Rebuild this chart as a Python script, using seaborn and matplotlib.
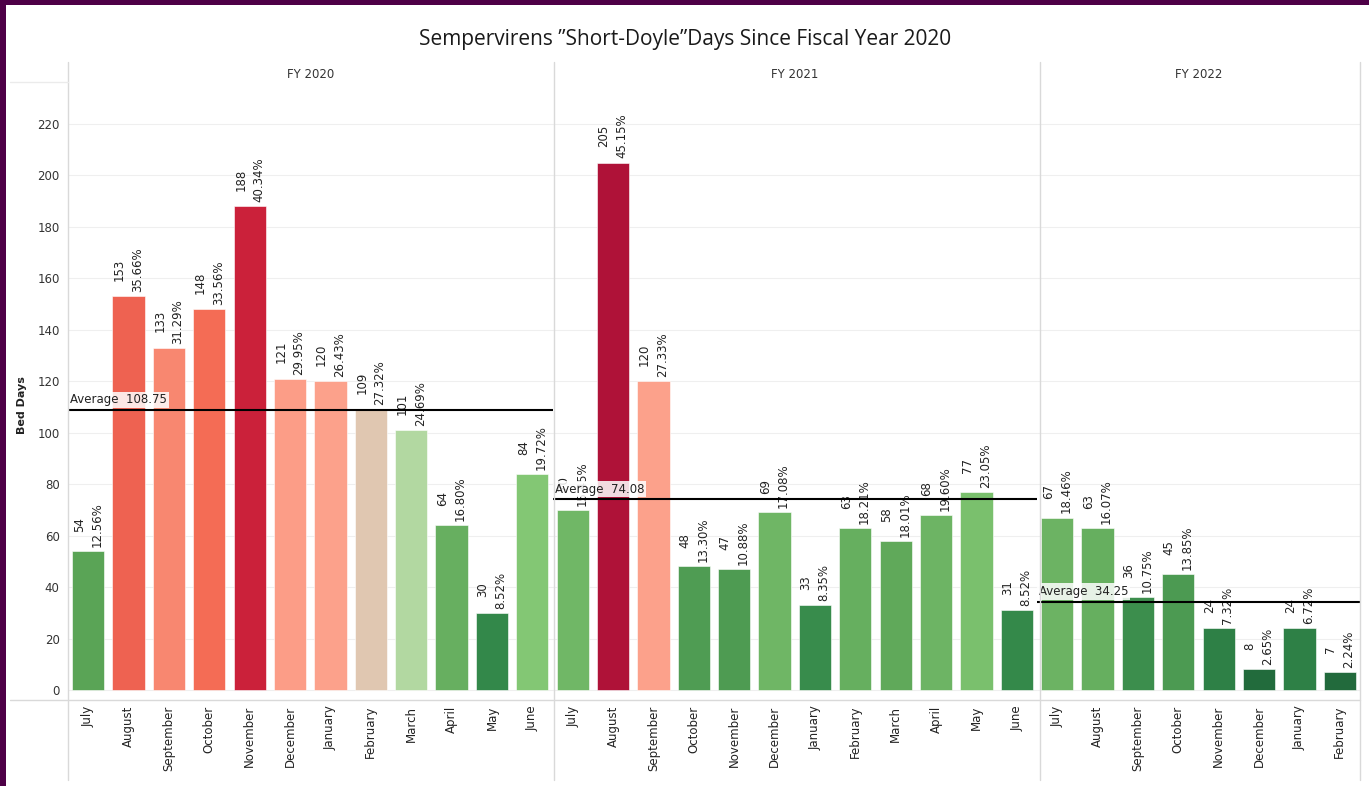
import numpy as np
import pandas as pd
import matplotlib.pyplot as plt
import matplotlib.colors as mcolors
from matplotlib.lines import Line2D
from matplotlib.patches import Rectangle
import seaborn as sns

# data
fiscal_years = ['FY 2020', 'FY 2021', 'FY 2022']
months = ['July', 'August', 'September', 'October', 'November', 'December',
          'January', 'February', 'March', 'April', 'May', 'June']

fy2020_days = [54, 153, 133, 148, 188, 121, 120, 109, 101, 64, 30, 84]
fy2020_pct = ['12.56%', '35.66%', '31.29%', '33.56%', '40.34%', '29.95%',
              '26.43%', '27.32%', '24.69%', '16.80%', '8.52%', '19.72%']
fy2021_days = [70, 205, 120, 48, 47, 69, 33, 63, 58, 68, 77, 31]
fy2021_pct = ['15.45%', '45.15%', '27.33%', '13.30%', '10.88%', '17.08%',
              '8.35%', '18.21%', '18.01%', '19.60%', '23.05%', '8.52%']
fy2022_days = [67, 63, 36, 45, 24, 8, 24, 7]
fy2022_pct = ['18.46%', '16.07%', '10.75%', '13.85%', '7.32%', '2.65%',
              '6.72%', '2.24%']

days_by_fy = [fy2020_days, fy2021_days, fy2022_days]
pct_by_fy = [fy2020_pct, fy2021_pct, fy2022_pct]

rows = []
for fy, d, p in zip(fiscal_years, days_by_fy, pct_by_fy):
    for m, v, s in zip(months, d, p):
        rows.append({'fy': fy, 'month': m, 'days': v, 'pct': s})
df = pd.DataFrame(rows)

# red-green diverging colour scale (tableau-like)
cmap = mcolors.LinearSegmentedColormap.from_list('rdgn', [
    (0.0, '#1d6337'), (0.034, '#226b3c'), (0.146, '#33884a'),
    (0.263, '#5aa456'), (0.41, '#84c874'), (0.493, '#b1d8a0'),
    (0.532, '#dfc8b2'), (0.585, '#fca08a'), (0.722, '#f46c55'),
    (0.917, '#cb213a'), (1.0, '#af1238')])
norm = mcolors.Normalize(0, df['days'].max())

sns.set_style('white')
plt.rcParams['font.family'] = ['DejaVu Sans']

W, H = 1369, 786
fig = plt.figure(figsize=(W / 100, H / 100), dpi=100)

x0, x1 = 68, 1360
y_top, y_bot = 82, 700
counts = [len(d) for d in days_by_fy]
gs = fig.add_gridspec(1, 3, width_ratios=counts, wspace=0,
                      left=x0 / W, right=x1 / W,
                      bottom=1 - y_bot / H, top=1 - y_top / H)

axes = []
for i, fy in enumerate(fiscal_years):
    ax = fig.add_subplot(gs[0, i], sharey=axes[0] if axes else None)
    axes.append(ax)
    sub = df[df['fy'] == fy].reset_index(drop=True)
    colors = [cmap(norm(v)) for v in sub['days']]
    sns.barplot(data=sub, x='month', y='days', hue='month', palette=colors,
                legend=False, width=0.8, saturation=1, ax=ax,
                edgecolor='white', linewidth=0.4)
    ax.set_xlim(-0.5, len(sub) - 0.5)
    ax.set_ylim(-3.9, 236.3)
    ax.set_yticks(range(0, 221, 20))
    ax.grid(axis='y', color='#efefef', linewidth=0.8)
    ax.set_axisbelow(True)
    for s in ax.spines.values():
        s.set_visible(False)
    ax.set_xlabel('')
    ax.set_ylabel('')
    ax.tick_params(axis='x', labelrotation=90, labelsize=8.5, length=0,
                   pad=4, labelcolor='#222222')
    ax.tick_params(axis='y', labelsize=8.5, length=0, pad=6,
                   labelcolor='#333333', labelleft=(i == 0))
    ax.set_title(fy, fontsize=8.5, color='#333333', pad=3)

    # value labels
    for j, r in sub.iterrows():
        ax.text(j, r['days'] + 1.6, f"{r['days']}\n{r['pct']}", rotation=90,
                ha='center', va='bottom', multialignment='center',
                fontsize=8.5, color='#222222', linespacing=1.5)

    # average reference line
    avg = np.mean(sub['days'])
    ax.axhline(avg, color='black', linewidth=1.5, zorder=5)
    ax.text(-0.45, avg + 1.5, f"Average  {avg:.2f}", fontsize=8.5,
            color='#222222', ha='left', va='bottom', zorder=6,
            bbox=dict(boxstyle='square,pad=0.15', facecolor='white',
                      edgecolor='none', alpha=0.85))

# panel frame lines (figure pixel coordinates)
line_col = '#d9d9d9'
for xp in [x0, 554, 1040, x1]:
    fig.add_artist(Line2D([xp / W, xp / W], [1 - 62 / H, 1 - 780 / H],
                          color=line_col, linewidth=1))
fig.add_artist(Line2D([10 / W, x0 / W], [1 - y_top / H, 1 - y_top / H],
                      color='#ebebeb', linewidth=1))
fig.add_artist(Line2D([10 / W, x1 / W], [1 - y_bot / H, 1 - y_bot / H],
                      color=line_col, linewidth=1))

fig.text(22 / W, 1 - 405 / H, 'Bed Days', rotation=90, ha='center',
         va='center', fontsize=8, fontweight='bold', color='#222222')
fig.text(685 / W, 1 - 40 / H, 'Sempervirens \u201dShort-Doyle\u201dDays Since Fiscal Year 2020',
         ha='center', va='center', fontsize=15, color='#1a1a1a',
         family=['Open Sans', 'DejaVu Sans'])

# dark purple frame on top and left edges
purple = '#4e0047'
fig.patches.append(Rectangle((0, 1 - 5 / H), 1, 5 / H, transform=fig.transFigure,
                             facecolor=purple, edgecolor='none'))
fig.patches.append(Rectangle((0, 0), 6 / W, 1, transform=fig.transFigure,
                             facecolor=purple, edgecolor='none'))

fig.savefig('out.png', dpi=100)
